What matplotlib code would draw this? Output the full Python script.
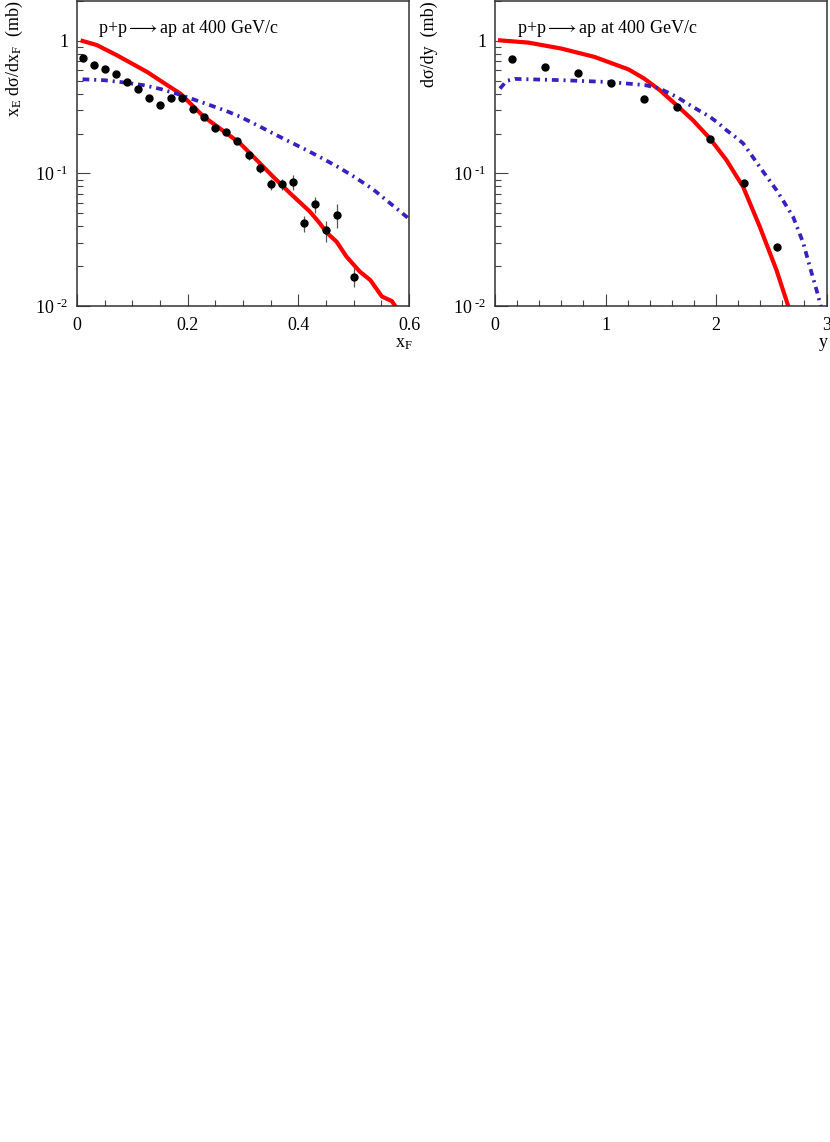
import math

import matplotlib
matplotlib.use("Agg")
import matplotlib.pyplot as plt
from matplotlib.ticker import MultipleLocator, LogLocator, FixedLocator, FuncFormatter, NullFormatter

plt.rcParams['font.family'] = ['Liberation Serif', 'DejaVu Serif']
plt.rcParams['mathtext.fontset'] = 'custom'
plt.rcParams['mathtext.rm'] = 'Liberation Serif'
plt.rcParams['mathtext.it'] = 'Liberation Serif:italic'

# left panel: x_F distribution
xf_data = [0.01, 0.03, 0.05, 0.07, 0.09, 0.11, 0.13, 0.15, 0.17, 0.19, 0.21, 0.23, 0.25,
           0.27, 0.29, 0.31, 0.33, 0.35, 0.37, 0.39, 0.41, 0.43, 0.45, 0.47, 0.50]
xf_vals = [0.74, 0.66, 0.61, 0.567, 0.49, 0.437, 0.37, 0.331, 0.37, 0.368, 0.307, 0.267, 0.22,
           0.207, 0.176, 0.137, 0.11, 0.0826, 0.0834, 0.0866, 0.042, 0.0584, 0.0372, 0.049, 0.0166]
xf_errs = [0.01, 0.01, 0.01, 0.01, 0.008, 0.008, 0.007, 0.007, 0.007, 0.007, 0.007, 0.008, 0.01,
           0.01, 0.008, 0.011, 0.01, 0.008, 0.008, 0.011, 0.0055, 0.008, 0.0068, 0.010, 0.0027]

xf_red_x = [0.01, 0.036, 0.072, 0.1265, 0.163, 0.187, 0.229, 0.271, 0.2946, 0.325, 0.355, 0.385,
            0.421, 0.439, 0.451, 0.469, 0.487, 0.511, 0.53, 0.551, 0.569, 0.58]
xf_red_y = [1.0, 0.93, 0.78, 0.584, 0.464, 0.40, 0.268, 0.20, 0.169, 0.126, 0.094, 0.071,
            0.0515, 0.042, 0.0359, 0.0306, 0.0236, 0.0182, 0.0157, 0.0118, 0.0109, 0.0093]

xf_blue_x = [0.01, 0.05, 0.078, 0.12, 0.15, 0.18, 0.21, 0.24, 0.27, 0.295, 0.325, 0.355, 0.385,
             0.415, 0.445, 0.475, 0.505, 0.535, 0.565, 0.596, 0.6]
xf_blue_y = [0.514, 0.505, 0.49, 0.464, 0.435, 0.40, 0.363, 0.328, 0.296, 0.268, 0.232, 0.20,
             0.173, 0.15, 0.129, 0.11, 0.092, 0.076, 0.06, 0.047, 0.045]

# right panel: rapidity distribution
y_data = [0.15, 0.45, 0.75, 1.05, 1.35, 1.65, 1.95, 2.25, 2.55]
y_vals = [0.727, 0.637, 0.577, 0.482, 0.365, 0.318, 0.182, 0.0841, 0.028]

y_red_x = [0.045, 0.30, 0.60, 0.90, 1.21, 1.35, 1.492, 1.643, 1.79, 1.944, 2.095, 2.245, 2.396,
           2.547, 2.652, 2.68]
y_red_y = [1.01, 0.972, 0.876, 0.758, 0.609, 0.52, 0.425, 0.328, 0.253, 0.184, 0.126, 0.0794,
           0.0397, 0.0187, 0.0101, 0.0085]

y_blue_x = [0.045, 0.105, 0.18, 0.60, 1.05, 1.36, 1.492, 1.643, 1.79, 1.944, 2.02, 2.095, 2.17,
            2.245, 2.32, 2.396, 2.47, 2.547, 2.62, 2.698, 2.789, 2.849, 2.91, 2.94, 2.97]
y_blue_y = [0.437, 0.50, 0.517, 0.506, 0.489, 0.464, 0.437, 0.379, 0.318, 0.268, 0.24, 0.212,
            0.19, 0.169, 0.138, 0.112, 0.092, 0.075, 0.06, 0.047, 0.030, 0.0198, 0.0132, 0.0106,
            0.0085]

title = r"p+p$\longrightarrow$ap at 400 GeV/c"
RED = "#ff0000"
BLUE = "#3a20c0"
DASHDOT = (0, (1.8, 1.3, 0.55, 1.3))
HYPHEN = "\u2010"


def log_label(v, pos):
    if abs(v - 1) < 1e-9:
        return "1"
    exp = int(round(math.log10(v)))
    return r"$\mathregular{10\;{}^{%s%d}}$" % (HYPHEN, abs(exp))


def style_axes(ax, xmax, major, minor):
    ax.set_yscale("log")
    ax.set_xlim(0, xmax)
    ax.set_ylim(0.01, 2.0)
    ax.xaxis.set_major_locator(MultipleLocator(major))
    ax.xaxis.set_minor_locator(MultipleLocator(minor))
    ax.yaxis.set_major_locator(FixedLocator([0.01, 0.1, 1]))
    ax.yaxis.set_minor_locator(LogLocator(base=10, subs=range(2, 10)))
    ax.yaxis.set_major_formatter(FuncFormatter(log_label))
    ax.yaxis.set_minor_formatter(NullFormatter())
    ax.xaxis.set_major_formatter(FuncFormatter(lambda v, p: "%g" % v))
    ax.tick_params(which="both", direction="in", top=False, right=False, labelsize=13,
                   color="#444444", width=0.8)
    ax.tick_params(which="major", length=9)
    ax.tick_params(axis="x", which="major", pad=8)
    ax.tick_params(axis="y", which="major", pad=6)
    ax.tick_params(which="minor", length=4)
    for s in ax.spines.values():
        s.set_linewidth(1.1)
        s.set_color("#333333")


fig = plt.figure(figsize=(8.3, 11.42), dpi=100)
ax1 = fig.add_axes([0.0928, 0.732, 0.4, 0.2671])
ax2 = fig.add_axes([0.5964, 0.732, 0.3994, 0.2671])

# left
style_axes(ax1, 0.6, 0.2, 0.05)
ax1.plot(xf_red_x, xf_red_y, color=RED, lw=3.0, solid_joinstyle="round")
ax1.plot(xf_blue_x, xf_blue_y, color=BLUE, lw=2.7, linestyle=DASHDOT)
ax1.errorbar(xf_data, xf_vals, yerr=xf_errs, fmt="o", color="black", ms=5,
             ecolor="#555555", elinewidth=0.9, capsize=0, zorder=5)
ax1.text(0.063, 0.895, title, transform=ax1.transAxes, fontsize=13)
ax1.set_ylabel("x$_{\\mathregular{E}}$ d\u03c3/dx$_{\\mathregular{F}}$  (mb)", loc="top", fontsize=13)
ax1.yaxis.set_label_coords(-0.157, 1.0)
ax1.set_xlabel(r"x$_{\mathregular{F}}$", loc="right", fontsize=13)
ax1.xaxis.set_label_coords(1.01, -0.095)

# right
style_axes(ax2, 3.0, 1.0, 0.2)
ax2.plot(y_red_x, y_red_y, color=RED, lw=3.0, solid_joinstyle="round")
ax2.plot(y_blue_x, y_blue_y, color=BLUE, lw=2.7, linestyle=DASHDOT)
ax2.plot(y_data, y_vals, "o", color="black", ms=5, zorder=5)
ax2.text(0.065, 0.895, title, transform=ax2.transAxes, fontsize=13)
ax2.set_ylabel("d\u03c3/dy  (mb)", loc="top", fontsize=13)
ax2.yaxis.set_label_coords(-0.172, 1.0)
ax2.set_xlabel("y", loc="right", fontsize=13)
ax2.xaxis.set_label_coords(1.003, -0.09)

fig.savefig("out.png", dpi=100)
